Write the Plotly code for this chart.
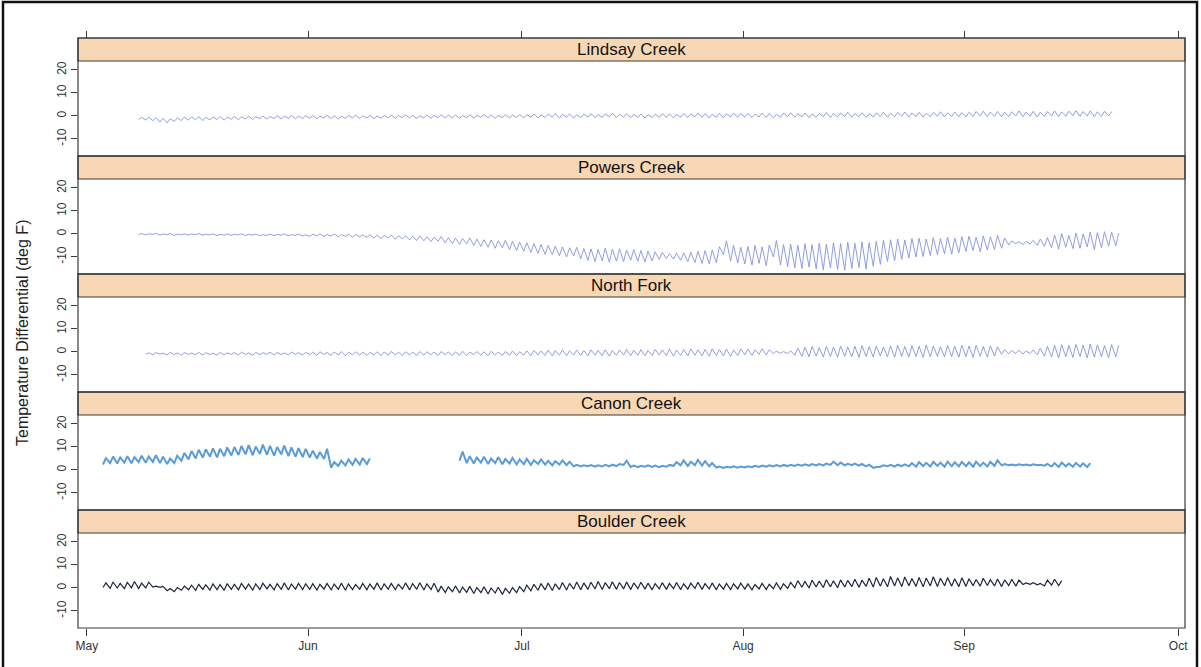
import pandas as pd
import plotly.graph_objects as go

# ---------------- data (daily low / high temperature differential, deg F) ----------------
panel_names = ["Lindsay Creek", "Powers Creek", "North Fork", "Canon Creek", "Boulder Creek"]
month_ticks = ["2010-05-01", "2010-06-01", "2010-07-01", "2010-08-01", "2010-09-01", "2010-10-01"]
month_labels = ["May", "Jun", "Jul", "Aug", "Sep", "Oct"]
y_ticks = [-10, 0, 10, 20]
y_tick_labels = ["-10", "0", "10", "20"]

lindsay_start = "2010-05-08"
lindsay_lo = [-1.5,-1.8,-2.0,-2.6,-3.0,-2.4,-2.0,-1.8,-1.6,-2.0,-1.7,-1.5,-1.8,-1.4,-1.6,-1.3,-1.5,-1.2,-1.4,-1.1,-1.3,-1.0,-1.2,-1.1,
              -1.0,-1.2,-0.9,-1.1,-1.3,-1.0,-0.8,-1.1,-0.9,-1.2,-1.0,-0.8,-1.0,-0.7,-0.9,-1.1,-0.8,-1.0,-0.7,-0.9,-0.8,-1.0,-0.7,-0.9,-0.6,-0.8,-1.0,-0.7,-0.9,-0.6,
              -0.8,-0.6,-0.9,-0.7,-0.5,-0.8,-0.6,-0.9,-0.7,-0.5,-0.8,-0.6,-0.4,-0.7,-0.5,-0.8,-0.6,-0.9,-0.7,-0.5,-0.6,-0.8,-0.5,-0.7,-0.4,-0.6,-0.8,-0.5,-0.7,-0.4,-0.6,
              -0.5,-0.7,-0.4,-0.6,-0.8,-0.5,-0.3,-0.6,-0.4,-0.7,-0.5,-0.3,-0.6,-0.4,-0.2,-0.5,-0.3,-0.6,-0.4,-0.2,-0.5,-0.3,-0.1,-0.4,-0.2,-0.5,-0.3,-0.1,-0.4,-0.2,-0.3,
              -0.4,-0.2,0.0,-0.3,-0.1,-0.4,-0.2,0.0,-0.3,-0.1,-0.4,-0.2,0.0,-0.3,-0.1,0.1,-0.2,0.0,-0.3,-0.1,0.0]
lindsay_hi = [-0.6,-0.5,-0.8,-1.0,-1.2,-0.8,-0.5,-0.4,-0.3,-0.6,-0.4,-0.2,-0.5,-0.2,-0.4,-0.1,-0.3,0.0,-0.2,0.1,-0.1,0.2,0.0,0.1,
              0.2,0.0,0.3,0.1,-0.1,0.2,0.4,0.1,0.3,0.0,0.2,0.4,0.2,0.5,0.3,0.1,0.4,0.2,0.5,0.3,0.4,0.2,0.5,0.3,0.6,0.4,0.2,0.5,0.3,0.6,
              0.6,0.9,0.5,0.8,1.0,0.7,0.9,0.6,0.8,1.1,0.7,0.9,1.2,0.8,1.0,0.7,0.9,0.6,0.8,1.0,0.9,0.7,1.1,0.8,1.3,1.0,0.7,1.1,0.9,1.2,1.0,
              1.1,0.8,1.3,1.0,0.7,1.2,1.4,1.0,1.3,0.9,1.1,1.5,1.0,1.3,1.6,1.1,1.4,1.0,1.3,1.6,1.2,1.5,1.7,1.3,1.6,1.2,1.5,1.8,1.4,1.7,1.5,
              1.6,1.9,2.1,1.7,2.0,1.5,1.8,2.2,1.7,2.0,1.6,1.9,2.2,1.8,2.1,2.3,1.9,2.2,1.8,2.0,1.9]

powers_start = "2010-05-08"
powers_lo = [-0.3,-0.4,-0.2,-0.5,-0.3,-0.6,-0.4,-0.5,-0.3,-0.6,-0.4,-0.7,-0.5,-0.6,-0.4,-0.7,-0.5,-0.8,-0.6,-0.7,-0.5,-0.8,-0.6,-0.9,
             -1.0,-0.8,-1.1,-0.9,-1.2,-1.0,-1.4,-1.2,-1.5,-1.8,-2.0,-1.8,-2.3,-2.1,-2.6,-2.8,-3.0,-3.3,-3.1,-3.8,-4.2,-4.5,-4.3,-5.0,-5.4,-5.8,-6.2,-6.0,-6.8,-7.2,
             -7.5,-8.0,-8.4,-8.8,-9.0,-9.5,-10.0,-9.6,-10.8,-11.5,-12.0,-11.6,-12.3,-11.8,-12.0,-11.4,-11.9,-12.2,-11.7,-11.0,-10.6,-10.9,-11.4,-12.0,-12.4,-12.8,-13.0,-12.5,-9.0,-11.8,-12.6,
             -13.0,-13.5,-12.8,-13.8,-10.0,-13.5,-14.2,-14.8,-15.0,-14.4,-15.2,-15.6,-14.8,-15.4,-15.8,-15.0,-14.6,-15.2,-14.0,-13.2,-12.0,-11.6,-11.0,-10.5,-10.0,-9.8,-9.4,-9.0,-8.6,-8.8,-8.2,
             -7.6,-7.2,-7.8,-7.0,-6.8,-6.2,-4.8,-4.2,-4.6,-4.4,-5.0,-5.4,-6.0,-6.6,-5.8,-6.4,-6.2,-5.6,-6.8,-6.0,-5.4,-5.2]
powers_hi = [0.2,0.1,0.3,0.0,0.2,-0.1,0.1,0.0,0.2,-0.1,0.1,-0.2,0.0,-0.1,0.1,-0.2,0.0,-0.3,-0.1,-0.2,0.0,-0.3,-0.1,-0.4,
             -0.1,0.1,-0.2,0.0,-0.3,-0.1,-0.2,-0.4,-0.3,-0.5,-0.6,-0.4,-0.8,-0.7,-1.0,-0.9,-1.2,-1.4,-1.1,-1.6,-1.8,-2.0,-1.7,-2.2,-2.5,-2.6,-2.9,-2.7,-3.2,-3.5,
             -3.8,-4.2,-4.6,-5.0,-5.3,-5.6,-6.0,-5.8,-6.3,-6.5,-6.8,-6.2,-6.6,-6.4,-7.0,-6.8,-7.2,-7.5,-7.8,-8.0,-8.6,-8.4,-8.2,-8.0,-7.6,-7.2,-7.0,-5.5,-3.0,-5.0,-5.8,
             -5.4,-5.0,-5.6,-4.8,-2.8,-4.6,-4.4,-4.8,-4.2,-4.6,-4.0,-4.4,-3.8,-4.2,-3.6,-4.0,-3.4,-3.8,-3.2,-2.8,-2.5,-2.2,-2.6,-2.0,-1.8,-2.2,-1.6,-2.0,-1.4,-1.8,-1.2,
             -1.0,-1.4,-0.8,-1.2,-0.6,-1.8,-3.0,-3.4,-3.2,-2.8,-2.2,-1.6,-0.4,0.2,-0.6,0.4,0.0,0.8,0.6,1.0,0.8,0.4]

northfork_start = "2010-05-09"
northfork_lo = [-1.0,-1.2,-0.9,-1.3,-1.1,-1.4,-1.0,-1.2,-1.3,-1.1,-1.4,-1.2,-1.0,-1.3,-1.1,-1.4,-1.2,-1.0,-1.3,-1.1,-1.2,-1.0,-1.3,
                -1.2,-1.4,-1.1,-1.5,-1.3,-1.6,-1.2,-1.4,-1.5,-1.3,-1.6,-1.4,-1.2,-1.5,-1.3,-1.6,-1.4,-1.2,-1.5,-1.3,-1.6,-1.4,-1.5,-1.2,-1.4,-1.6,-1.3,-1.5,-1.4,-1.6,
                -1.4,-1.6,-1.3,-1.5,-1.7,-1.4,-1.6,-1.3,-1.5,-1.7,-1.4,-1.6,-1.8,-1.5,-1.3,-1.6,-1.4,-1.7,-1.5,-1.3,-1.6,-1.8,-1.5,-1.7,-1.4,-1.6,-1.8,-1.5,-1.7,-1.9,-1.6,
                -1.2,-1.5,-1.0,-1.3,-0.8,-0.6,-0.7,-1.4,-1.9,-2.1,-1.8,-2.2,-2.0,-2.3,-1.9,-2.1,-2.4,-2.0,-2.2,-1.8,-2.1,-2.3,-1.9,-2.2,-2.0,-2.4,-2.1,-1.9,-2.2,-2.0,-2.3,
                -2.0,-2.3,-1.9,-2.2,-1.8,-1.0,-0.8,-0.6,-0.9,-0.7,-1.2,-1.8,-2.2,-2.5,-2.1,-2.4,-2.0,-2.6,-2.3,-2.1,-2.5,-2.2]
northfork_hi = [-0.4,-0.3,-0.5,-0.2,-0.4,-0.3,-0.5,-0.2,-0.3,-0.5,-0.2,-0.4,-0.3,-0.1,-0.4,-0.2,-0.3,-0.1,-0.2,-0.4,-0.1,-0.3,-0.2,
                -0.1,0.1,-0.2,0.0,0.2,-0.1,0.1,0.0,-0.2,0.1,0.0,0.2,-0.1,0.1,0.0,0.2,0.1,-0.1,0.2,0.0,0.1,0.3,0.0,0.2,0.1,0.3,0.0,0.2,0.4,0.1,
                0.5,0.7,0.4,0.8,0.6,0.9,0.5,0.8,0.6,0.9,0.7,1.0,0.6,0.9,1.1,0.8,1.0,0.7,1.1,0.9,1.2,0.8,1.0,1.3,0.9,1.1,1.4,1.0,1.2,0.9,1.3,
                1.2,0.9,1.4,1.0,0.4,0.2,0.5,1.6,2.0,2.3,1.9,2.4,2.1,2.6,2.2,2.5,2.8,2.3,2.6,2.2,2.7,2.9,2.4,2.8,2.5,3.0,2.6,2.3,2.8,2.5,2.9,
                2.6,2.9,2.4,2.7,2.2,1.0,0.6,0.8,0.5,0.9,1.6,2.4,2.9,3.2,2.8,3.3,3.0,3.4,3.1,2.8,3.2,2.9]

canon1_start = "2010-05-03"
canon1_lo = [2.4,3.0,2.8,3.2,2.9,3.4,3.1,3.5,3.0,2.6,
             3.0,4.0,4.6,5.0,5.4,5.8,5.5,6.0,6.3,
             6.5,6.8,6.4,7.0,6.6,6.2,6.8,6.0,5.8,5.6,
             5.4,5.0,4.8,1.0,1.8,2.0,2.2,2.4,2.6]
canon1_hi = [5.2,5.8,5.5,6.0,5.6,6.2,5.9,6.4,5.8,5.0,
             6.2,7.4,8.2,8.8,9.0,9.4,9.2,9.8,10.0,
             10.4,10.8,10.2,11.0,10.5,10.0,10.6,9.8,9.5,9.2,
             8.4,7.8,9.2,3.4,4.0,4.6,4.8,5.2,5.0]

canon2_start = "2010-06-22"
canon2_lo = [4.0,3.0,2.8,3.2,2.6,3.0,2.5,2.8,2.4,
             2.5,2.2,2.6,2.3,2.0,2.4,2.1,1.6,1.5,1.6,1.4,1.5,1.6,1.7,2.2,1.3,1.2,1.4,1.3,1.2,1.4,1.8,2.0,1.7,2.1,1.9,1.6,1.0,0.9,1.1,1.0,
             1.1,1.2,1.3,1.4,1.5,1.5,1.7,1.8,1.9,1.9,2.0,2.0,2.2,2.1,2.0,2.1,1.9,1.6,0.9,1.4,1.6,1.5,1.7,1.6,1.4,1.7,1.5,1.8,1.4,1.6,1.5,
             1.6,1.4,1.7,1.5,1.8,2.0,2.1,2.0,2.1,2.0,2.1,1.9,1.5,1.3,1.6,1.4,1.5,1.3]
canon2_hi = [8.0,6.0,5.4,5.8,5.0,5.6,4.8,5.2,4.6,
             4.8,4.2,4.6,4.0,3.8,4.2,3.6,2.2,2.0,2.1,2.0,2.2,2.3,2.6,4.0,1.9,1.8,2.0,1.9,1.8,2.2,3.4,4.2,3.6,4.4,3.8,3.0,1.5,1.4,1.6,1.5,
             1.6,1.8,1.9,2.0,2.1,2.2,2.3,2.4,2.5,2.6,2.6,2.8,3.6,3.2,2.7,2.8,2.6,2.3,1.3,2.0,2.2,2.3,2.4,3.0,3.4,3.1,3.5,3.2,3.6,3.3,3.5,
             3.3,3.6,3.2,3.5,4.2,2.6,2.4,2.5,2.4,2.5,2.3,2.6,3.0,3.2,2.8,3.1,2.9,3.0]

boulder_start = "2010-05-03"
boulder_lo = [0.2,-0.2,0.0,-0.3,0.1,-0.2,0.0,0.4,0.3,-1.2,-1.6,-1.0,-0.8,-1.0,-0.6,-0.9,-0.7,-1.0,-0.6,-0.8,-0.5,-0.9,-0.7,-0.4,-0.8,-0.6,-0.9,-0.5,-0.7,
              -0.6,-0.9,-0.5,-0.8,-0.6,-1.0,-0.7,-0.5,-0.8,-0.6,-0.9,-0.5,-0.7,-0.4,-0.8,-0.6,-0.9,-0.7,-1.8,-2.0,-1.6,-2.2,-1.9,-2.4,-2.0,-2.6,-2.2,-2.8,-2.3,-2.0,
              -1.6,-1.2,-1.0,-0.8,-1.1,-0.7,-0.9,-0.5,-0.8,-0.6,-0.4,-0.7,-0.3,-0.6,-0.4,-0.7,-0.3,-0.5,-0.8,-0.4,-0.6,-0.3,-0.7,-0.5,-0.2,-0.6,-0.4,-0.8,-0.5,-0.7,-0.4,
              -0.5,-0.8,-0.4,-0.7,-0.3,-0.6,-0.2,0.1,0.3,0.0,0.4,0.2,0.5,0.1,0.4,0.6,0.3,0.7,0.4,0.8,0.5,0.9,0.6,1.0,0.7,0.5,0.9,0.6,1.0,0.8,0.6,
              0.7,1.0,0.8,1.1,0.9,0.6,1.0,0.8,1.5,1.6,1.4,0.9,1.2,1.0]
boulder_hi = [2.2,2.6,2.0,2.4,2.8,2.1,2.5,0.8,0.7,-0.2,0.2,0.8,1.2,1.6,1.4,1.8,1.5,1.9,1.6,2.0,1.7,1.8,2.1,1.6,1.9,2.2,1.7,2.0,1.8,
              1.9,1.6,2.0,1.7,2.1,1.8,1.5,2.0,1.7,2.2,1.8,2.0,1.6,2.2,1.9,2.3,1.8,2.1,0.8,0.5,0.9,0.4,0.7,0.2,0.5,0.0,0.3,-0.2,0.2,0.6,
              1.2,1.6,1.9,2.2,1.8,2.4,2.0,2.6,2.2,2.5,2.8,2.3,2.7,2.4,2.6,2.2,2.5,2.1,1.9,2.3,2.0,2.4,1.8,2.1,2.5,1.9,2.2,1.7,2.0,1.8,2.1,
              1.8,1.5,2.0,1.6,2.2,1.8,2.4,3.2,2.8,3.4,3.0,3.6,3.1,3.5,3.3,3.8,3.4,4.2,4.6,4.0,5.0,4.4,4.8,4.1,4.6,4.3,4.9,4.2,4.5,4.0,4.4,
              4.0,3.7,4.2,3.6,3.9,3.5,3.8,3.4,2.2,2.3,2.0,3.4,3.8,3.2]


def daily_series(start, lo, hi):
    """Interleave each day's low (morning) and high (afternoon) reading."""
    t0 = pd.Timestamp(start)
    xs, ys = [], []
    for i, (a, b) in enumerate(zip(lo, hi)):
        day = t0 + pd.Timedelta(days=i)
        xs += [day + pd.Timedelta(hours=6), day + pd.Timedelta(hours=16)]
        ys += [a, b]
    return xs, ys


LIGHT = "#8493dc"
CANON = "#5b9bd8"
NAVY = "#1d2540"

series = [
    [(lindsay_start, lindsay_lo, lindsay_hi, LIGHT, 0.9)],
    [(powers_start, powers_lo, powers_hi, LIGHT, 0.9)],
    [(northfork_start, northfork_lo, northfork_hi, LIGHT, 0.9)],
    [(canon1_start, canon1_lo, canon1_hi, CANON, 2.0), (canon2_start, canon2_lo, canon2_hi, CANON, 2.0)],
    [(boulder_start, boulder_lo, boulder_hi, NAVY, 1.2)],
]

# ---------------- layout geometry ----------------
W, H = 1201, 667
ML, MR, MT, MB = 78, 16, 38, 39
PH = H - MT - MB          # plot-area height in px
PANEL = PH / 5            # strip + panel
STRIP = 23

def py(pix):              # pixel row -> paper y
    return (H - MB - pix) / PH

def px(pix):              # pixel col -> paper x
    return (pix - ML) / (W - ML - MR)

fig = go.Figure()
shapes, annotations = [], []
x_range = [pd.Timestamp("2010-04-29 18:00"), pd.Timestamp("2010-10-01 23:00")]
LINE_COL = "#3a3a3a"
FONT = "Liberation Sans, Arial"

for k, name in enumerate(panel_names):
    n = k + 1
    top = MT + PANEL * k
    s_bot = top + STRIP
    p_bot = top + PANEL
    xa = "x" if n == 1 else f"x{n}"
    ya = "y" if n == 1 else f"y{n}"
    for (st, lo, hi, col, w) in series[k]:
        xs, ys = daily_series(st, lo, hi)
        fig.add_trace(go.Scatter(x=xs, y=ys, mode="lines", line=dict(color=col, width=w),
                                 xaxis=xa, yaxis=ya, showlegend=False, hoverinfo="skip"))

    xkey = "xaxis" if n == 1 else f"xaxis{n}"
    ykey = "yaxis" if n == 1 else f"yaxis{n}"
    xcfg = dict(type="date", range=x_range, domain=[0, 1], showgrid=False, zeroline=False,
                tickvals=month_ticks, ticktext=month_labels, showline=False)
    if n > 1:
        xcfg["matches"] = "x"
    if n == 1:
        xcfg.update(anchor="free", position=1.0, side="top", ticks="outside", ticklen=7,
                    tickcolor=LINE_COL, showticklabels=False)
    elif n == 5:
        xcfg.update(anchor=ya, side="bottom", ticks="outside", ticklen=7, tickcolor=LINE_COL,
                    showticklabels=True, tickfont=dict(family=FONT, size=12, color="#333"))
    else:
        xcfg.update(anchor=ya, ticks="", showticklabels=False)
    fig.layout[xkey] = xcfg

    fig.layout[ykey] = dict(domain=[py(p_bot), py(s_bot)], range=[-17.4, 23.9], anchor=xa,
                            showgrid=False, zeroline=False, tickvals=y_ticks, ticktext=y_tick_labels,
                            ticks="outside", ticklen=6, tickcolor=LINE_COL, tickangle=-90, showline=False,
                            tickfont=dict(family=FONT, size=12, color="#333"))

    # strip
    shapes.append(dict(type="rect", xref="paper", yref="paper", x0=0, x1=1, y0=py(s_bot), y1=py(top),
                       fillcolor="#f8d8b4", line=dict(color=LINE_COL, width=1.2), layer="below"))
    # panel box
    shapes.append(dict(type="rect", xref="paper", yref="paper", x0=0, x1=1, y0=py(p_bot), y1=py(top),
                       fillcolor="rgba(0,0,0,0)", line=dict(color=LINE_COL, width=1.2), layer="above"))
    annotations.append(dict(text=name, xref="paper", yref="paper", x=0.5, y=(py(s_bot) + py(top)) / 2,
                            showarrow=False, xanchor="center", yanchor="middle",
                            font=dict(family=FONT, size=17, color="#111")))

# outer frame of the figure
shapes.append(dict(type="rect", xref="paper", yref="paper", x0=px(3), x1=px(1197), y0=py(H + 5), y1=py(2),
                   line=dict(color="#111", width=2.5), fillcolor="rgba(0,0,0,0)"))

annotations.append(dict(text="Temperature Differential (deg F)", xref="paper", yref="paper",
                        x=px(22), y=py(333), textangle=-90, showarrow=False,
                        xanchor="center", yanchor="middle",
                        font=dict(family=FONT, size=16, color="#222")))

fig.update_layout(width=W, height=H, margin=dict(l=ML, r=MR, t=MT, b=MB),
                  paper_bgcolor="white", plot_bgcolor="white",
                  shapes=shapes, annotations=annotations, showlegend=False)

fig.write_html("out.html", config={"displayModeBar": False},
               post_script="document.body.style.margin='0px';")
